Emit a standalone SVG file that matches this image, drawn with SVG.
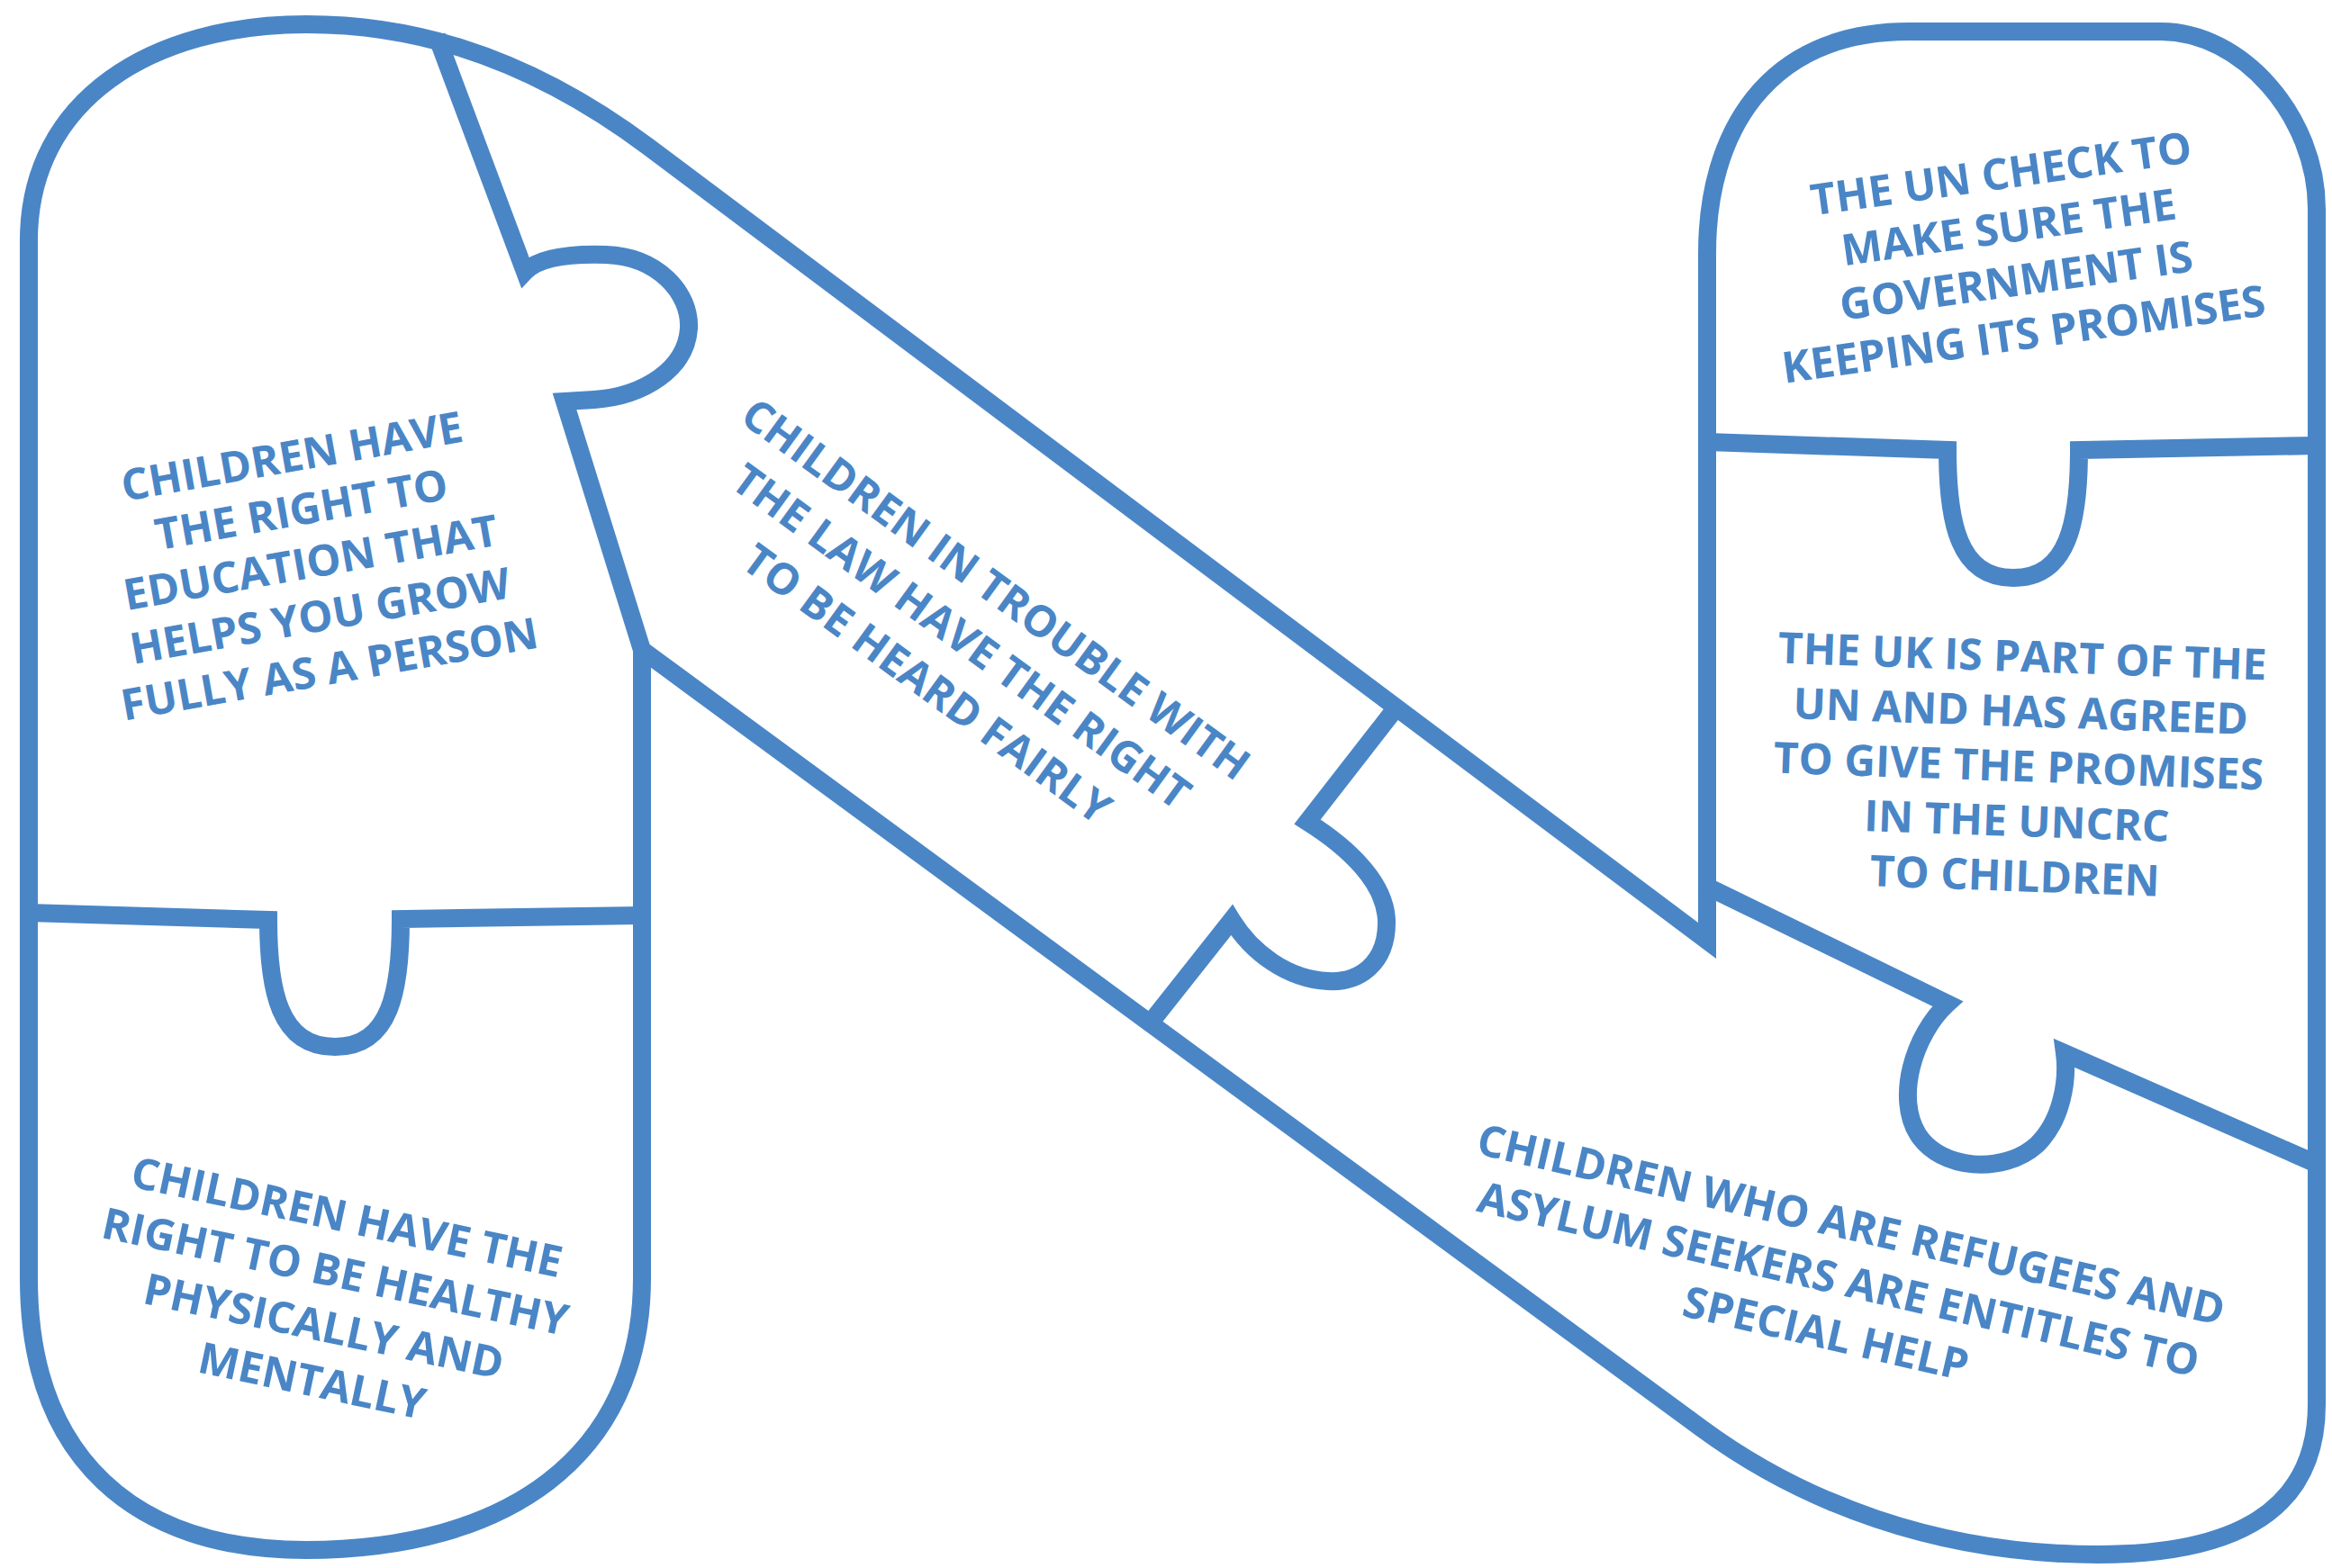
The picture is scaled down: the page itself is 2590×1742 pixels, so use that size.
<svg xmlns="http://www.w3.org/2000/svg" width="2590" height="1742" viewBox="0 0 2590 1742">
<style>
.ln{fill:none;stroke:#4a86c6;stroke-width:20;stroke-linejoin:miter;stroke-linecap:butt}
.t{font-family:"Open Sans","Liberation Sans",sans-serif;font-weight:700;font-size:48px;fill:#4a86c6;text-anchor:middle}
</style>
<rect width="2590" height="1742" fill="#ffffff"/>
<g id="outline">
<path class="ln" d="M 32,1420 L 32,267 C 32,110 170,27 340,27 C 440,27 570,51 720,163 L 1896,1045 L 1896,281 C 1896,150 1960,35 2120,35 L 2400,35 C 2490,35 2573,130 2573,232 L 2573,1560 C 2573,1680 2480,1727 2330,1727 C 2150,1727 2000,1668 1890,1587 L 713,722 L 713,1420 C 713,1620 560,1722 340,1722 C 150,1722 32,1620 32,1420 Z"/>
</g>
<g id="connectors">
<path class="ln" d="M 485,40 L 583,302 C 600,284 640,282 673,283 C 730,285 767,325 765,365 C 762,410 715,440 660,444 L 627,446 L 713,722"/>
<path class="ln" d="M 32,1014 L 298,1022 C 298,1100 310,1163 372,1163 C 434,1163 445,1100 445,1021 L 713,1017"/>
<path class="ln" d="M 1550,787 L 1452,913 C 1495,940 1540,980 1540,1025 C 1540,1070 1510,1092 1475,1090 C 1430,1088 1390,1058 1368,1022 L 1277,1137"/>
<path class="ln" d="M 1896,491 L 2163,500 C 2163,580 2175,642 2236,642 C 2297,642 2309,580 2309,500 L 2573,495"/>
<path class="ln" d="M 1896,985 L 2163,1115 C 2125,1150 2105,1220 2130,1260 C 2155,1300 2225,1305 2262,1272 C 2290,1245 2297,1200 2293,1170 L 2573,1293"/>
</g>
<g id="node-education" transform="translate(345,625) rotate(-10)">
<text class="t" x="0" y="-103">CHILDREN HAVE</text>
<text class="t" x="0" y="-43">THE RIGHT TO</text>
<text class="t" x="0" y="17">EDUCATION THAT</text>
<text class="t" x="0" y="77">HELPS YOU GROW</text>
<text class="t" x="0" y="137">FULLY AS A PERSON</text>
</g>
<g id="node-law" transform="translate(1068,707) rotate(36)">
<text class="t" x="0" y="-48">CHILDREN IN TROUBLE WITH</text>
<text class="t" x="0" y="17">THE LAW HAVE THE RIGHT</text>
<text class="t" x="0" y="82">TO BE HEARD FAIRLY</text>
</g>
<g id="node-health" transform="translate(366,1443) rotate(12)">
<text class="t" x="0" y="-76">CHILDREN HAVE THE</text>
<text class="t" x="0" y="-14">RIGHT TO BE HEALTHY</text>
<text class="t" x="0" y="48">PHYSICALLY AND</text>
<text class="t" x="0" y="110">MENTALLY</text>
</g>
<g id="node-un-check" transform="translate(2235,282) rotate(-8)">
<text class="t" x="0" y="-73">THE UN CHECK TO</text>
<text class="t" x="0" y="-13">MAKE SURE THE</text>
<text class="t" x="0" y="47">GOVERNMENT IS</text>
<text class="t" x="0" y="107">KEEPING ITS PROMISES</text>
</g>
<g id="node-uk" transform="translate(2242,851) rotate(2)">
<text class="t" x="0" y="-105">THE UK IS PART OF THE</text>
<text class="t" x="0" y="-44">UN AND HAS AGREED</text>
<text class="t" x="0" y="17">TO GIVE THE PROMISES</text>
<text class="t" x="0" y="78">IN THE UNCRC</text>
<text class="t" x="0" y="139">TO CHILDREN</text>
</g>
<g id="node-refugees" transform="translate(2042,1421) rotate(13)">
<text class="t" x="0" y="-45">CHILDREN WHO ARE REFUGEES AND</text>
<text class="t" x="0" y="17">ASYLUM SEEKERS ARE ENTITLES TO</text>
<text class="t" x="0" y="79">SPECIAL HELP</text>
</g>
</svg>
